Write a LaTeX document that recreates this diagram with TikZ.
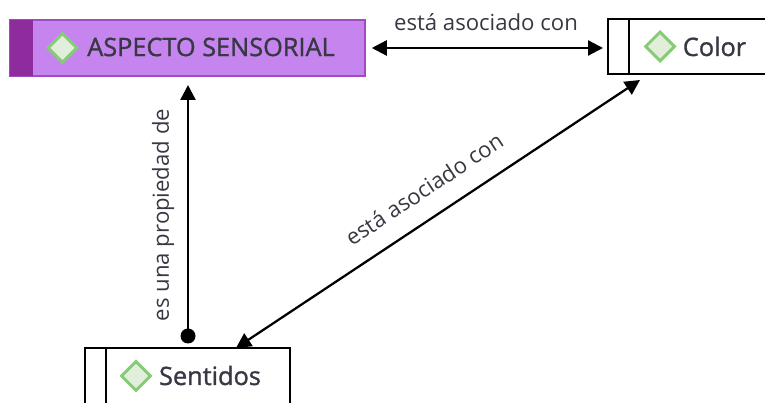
\documentclass[tikz,border=0pt]{standalone}
\usepackage{fontspec}
\setmainfont{Open Sans}
\newfontfamily\namefont[FakeBold=1.2]{Open Sans}
\usetikzlibrary{arrows.meta,shapes.geometric}
\definecolor{conceptfill}{HTML}{C584EE}
\definecolor{conceptedge}{HTML}{A24BC0}
\definecolor{conceptstrip}{HTML}{8E2C9E}
\definecolor{markfill}{HTML}{E0EEDA}
\definecolor{markedge}{HTML}{86CC78}
\definecolor{labeltext}{HTML}{383844}
\tikzset{
    conceptbox/.style={draw=black,line width=0.04cm,minimum height=1.1cm,inner sep=0pt},
    mainbox/.style={draw=conceptedge,line width=0.03cm,fill=conceptfill,minimum height=1.12cm,inner sep=0pt},
    stripbox/.style={fill=conceptstrip,minimum height=1.12cm,inner sep=0pt},
    markdiamond/.style={diamond,draw=markedge,fill=markfill,line width=0.06cm,minimum width=0.6cm,minimum height=0.6cm,inner sep=0pt},
    nametext/.style={text=labeltext,inner sep=0pt,font=\namefont\fontsize{14.4}{16}\selectfont},
    linktext/.style={text=labeltext,inner sep=0pt,font=\fontsize{12.6}{14}\selectfont},
    linkline/.style={line width=0.045cm,black},
    tip/.tip={Triangle[length=0.3cm,width=0.3cm]}
}
\begin{document}
\begin{tikzpicture}
    \useasboundingbox (0,0) rectangle (15.3,8.06);
    \clip (0,0) rectangle (15.3,8.06);
    % concepts
    \node[mainbox,minimum width=7.1cm] (aspecto) at (3.75,7.1) {};
    \node[stripbox,minimum width=0.46cm] (aspectostrip) at (0.43,7.1) {};
    \node[markdiamond] (aspectomark) at (1.25,7.1) {};
    \node[nametext] (aspectoname) at (4.22,7.12) {ASPECTO SENSORIAL};
    \node[conceptbox,minimum width=3.6cm] (color) at (13.96,7.12) {};
    \node[conceptbox,minimum width=0.42cm,minimum height=1.1cm] (colorstrip) at (12.37,7.12) {};
    \node[markdiamond] (colormark) at (13.2,7.13) {};
    \node[nametext] (colorname) at (14.29,7.13) {Color};
    \node[conceptbox,minimum width=4.1cm,minimum height=1.5cm] (sentidos) at (3.75,0.35) {};
    \node[conceptbox,minimum width=0.42cm,minimum height=1.5cm] (sentidosstrip) at (1.91,0.35) {};
    \node[markdiamond] (sentidosmark) at (2.72,0.54) {};
    \node[nametext] (sentidosname) at (4.2,0.55) {Sentidos};
    % links
    \coordinate (diagtop) at (12.8,6.46);
    \coordinate (diagbottom) at (4.72,1.1);
    \coordinate (dotstart) at (3.76,1.34);
    \coordinate (uptop) at (3.76,6.36);
    \coordinate (rightend) at ([xshift=-0.08cm]colorstrip.west |- aspecto.east);
    \draw[linkline,{tip}-{tip}] ([xshift=0.12cm]aspecto.east) -- (rightend);
    \draw[linkline,{tip}-{tip}] (diagtop) -- (diagbottom);
    \draw[linkline,-{tip}] (dotstart) -- (uptop);
    \fill (dotstart) circle (0.15cm);
    % labels
    \node[linktext] (toplabel) at (9.72,7.62) {está asociado con};
    \node[linktext,rotate=90] (sidelabel) at (3.26,3.76) {es una propiedad de};
    \node[linktext,rotate=33.5] (diaglabel) at (8.48,4.28) {está asociado con};
\end{tikzpicture}
\end{document}
